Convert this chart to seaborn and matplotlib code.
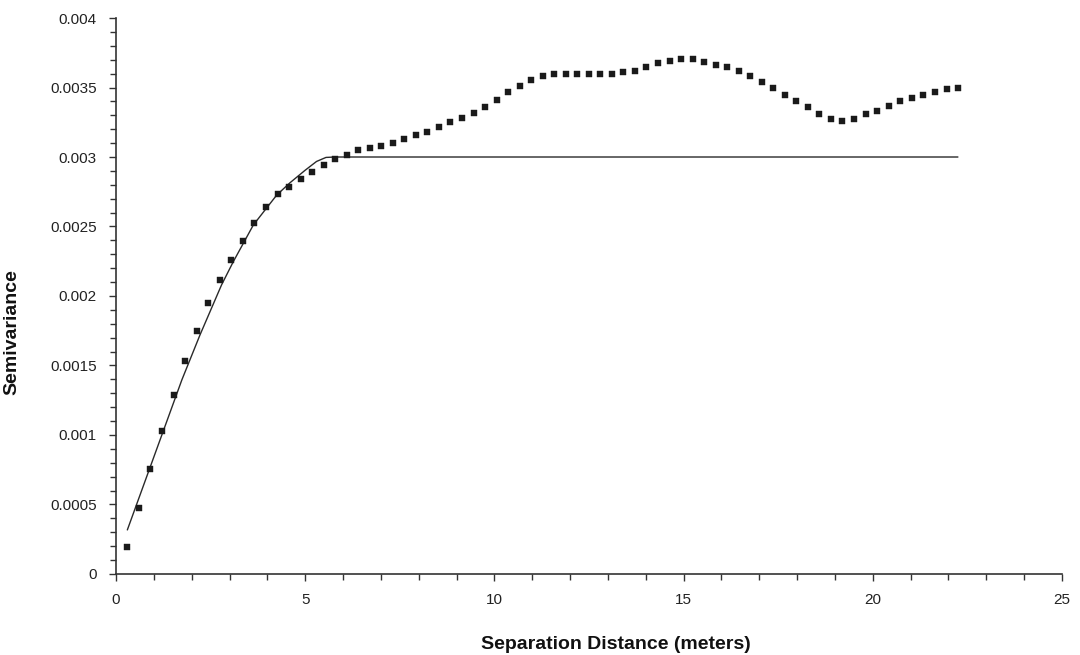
import matplotlib
matplotlib.use("Agg")
import matplotlib.pyplot as plt
import seaborn as sns
import pandas as pd
from matplotlib.ticker import MultipleLocator, FixedLocator, FixedFormatter

# ---- data ----
lag_m = [0.30, 0.61, 0.91, 1.22, 1.52, 1.83, 2.13, 2.44, 2.74, 3.05,
         3.35, 3.66, 3.96, 4.27, 4.57, 4.88, 5.18, 5.49, 5.79, 6.10,
         6.40, 6.71, 7.01, 7.32, 7.62, 7.92, 8.23, 8.53, 8.84, 9.14,
         9.45, 9.75, 10.06, 10.36, 10.67, 10.97, 11.28, 11.58, 11.89, 12.19,
         12.50, 12.80, 13.11, 13.41, 13.72, 14.02, 14.33, 14.63, 14.94, 15.24,
         15.54, 15.85, 16.15, 16.46, 16.76, 17.07, 17.37, 17.68, 17.98, 18.29,
         18.59, 18.90, 19.20, 19.51, 19.81, 20.12, 20.42, 20.73, 21.03, 21.34,
         21.64, 21.95, 22.25]
semivariance = [0.000194, 0.000477, 0.000758, 0.001026, 0.001288, 0.001535, 0.001750, 0.001950, 0.002118, 0.002259,
                0.002395, 0.002525, 0.002638, 0.002735, 0.002782, 0.002841, 0.002893, 0.002941, 0.002986, 0.003011,
                0.003050, 0.003065, 0.003079, 0.003098, 0.003130, 0.003156, 0.003182, 0.003218, 0.003250, 0.003283,
                0.003319, 0.003360, 0.003412, 0.003465, 0.003513, 0.003551, 0.003583, 0.003597, 0.003597, 0.003597,
                0.003597, 0.003597, 0.003597, 0.003614, 0.003621, 0.003650, 0.003674, 0.003693, 0.003705, 0.003703,
                0.003683, 0.003662, 0.003645, 0.003619, 0.003583, 0.003542, 0.003499, 0.003446, 0.003405, 0.003362,
                0.003309, 0.003273, 0.003259, 0.003273, 0.003309, 0.003332, 0.003369, 0.003403, 0.003427, 0.003446,
                0.003470, 0.003490, 0.003494]

model_x = [0.30, 1.74, 2.22, 2.79, 3.10, 3.63, 4.25, 4.60, 5.00, 5.30, 5.55, 5.80, 22.25]
model_y = [0.000317, 0.001396, 0.001720, 0.002080, 0.002247, 0.002511, 0.002727, 0.002815, 0.002905, 0.002968, 0.002997, 0.003000, 0.003000]

x_ticks = [0, 5, 10, 15, 20, 25]
x_tick_labels = ["0", "5", "10", "15", "20", "25"]
y_ticks = [0, 0.0005, 0.001, 0.0015, 0.002, 0.0025, 0.003, 0.0035, 0.004]
y_tick_labels = ["0", "0.0005", "0.001", "0.0015", "0.002", "0.0025", "0.003", "0.0035", "0.004"]

x_title = "Separation Distance (meters)"
y_title = "Semivariance"

# ---- plot ----
sns.set_style("ticks")
plt.rcParams["font.family"] = ["Liberation Sans", "DejaVu Sans"]

obs = pd.DataFrame({"lag": lag_m, "gamma": semivariance})
mod = pd.DataFrame({"lag": model_x, "gamma": model_y})

fig = plt.figure(figsize=(10.8, 6.55), dpi=100)
ax = fig.add_axes([0.1074, 0.1237, 0.8759, 0.8488])

sns.lineplot(data=mod, x="lag", y="gamma", ax=ax, color="#2a2a2a",
             linewidth=1.0, sort=False, estimator=None)
sns.scatterplot(data=obs, x="lag", y="gamma", ax=ax, marker="s", s=14,
                color="#1a1a1a", edgecolor="#1a1a1a", linewidth=0.3, zorder=3)

ax.set_xlim(0, 25)
ax.set_ylim(0, 0.004)
ax.xaxis.set_major_locator(FixedLocator(x_ticks))
ax.xaxis.set_major_formatter(FixedFormatter(x_tick_labels))
ax.xaxis.set_minor_locator(MultipleLocator(1))
ax.yaxis.set_major_locator(FixedLocator(y_ticks))
ax.yaxis.set_major_formatter(FixedFormatter(y_tick_labels))
ax.yaxis.set_minor_locator(MultipleLocator(0.0001))

ax.tick_params(axis="both", which="major", direction="out", length=5, width=1.0,
               color="#333333", labelsize=11, labelcolor="#222222", pad=9)
ax.tick_params(axis="both", which="minor", direction="out", length=4, width=1.0,
               color="#333333")

for side in ["top", "right"]:
    ax.spines[side].set_visible(False)
for side in ["left", "bottom"]:
    ax.spines[side].set_color("#333333")
    ax.spines[side].set_linewidth(1.2)

ax.set_xlabel(x_title, fontsize=14, fontweight="bold", color="#111111")
ax.set_ylabel(y_title, fontsize=14, fontweight="bold", color="#111111")
ax.xaxis.set_label_coords(0.528, -0.112)
ax.yaxis.set_label_coords(-0.101, 0.435)

fig.savefig("out.png", dpi=100, facecolor="white")
